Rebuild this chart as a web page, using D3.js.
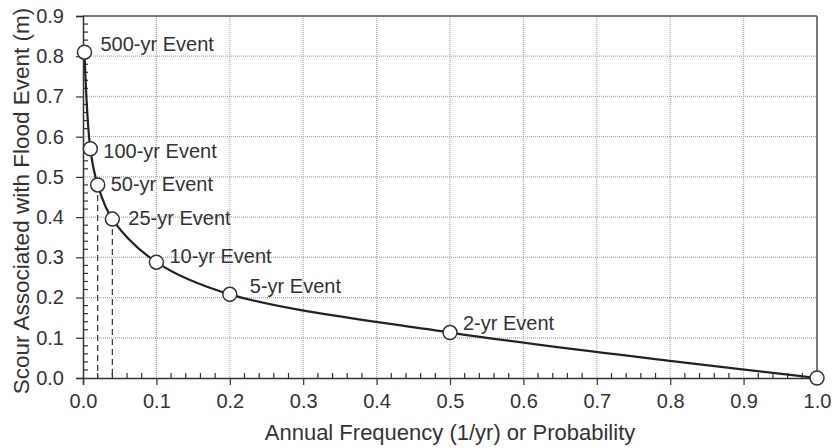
<!DOCTYPE html>
<html><head><meta charset="utf-8">
<script src="https://cdn.jsdelivr.net/npm/d3@7"></script>
<style>body{margin:0;background:#fff;} text{font-family:"Liberation Sans",Arial,sans-serif;}</style>
</head><body><svg id="c" width="836" height="448"></svg>
<script>
const events = ["500-yr Event","100-yr Event","50-yr Event","25-yr Event","10-yr Event","5-yr Event","2-yr Event",""];
const freq = [0.002,0.01,0.02,0.04,0.1,0.2,0.5,1.0];
const scour = [0.81,0.57,0.48,0.395,0.288,0.208,0.113,0.0];
const dashedFreq = [0.02,0.04];
const xTicks = [0,0.1,0.2,0.3,0.4,0.5,0.6,0.7,0.8,0.9,1.0];
const yTicks = [0,0.1,0.2,0.3,0.4,0.5,0.6,0.7,0.8,0.9];
const labelOffsets = [[16,-8],[13,2],[13,-1],[16,-1],[13,-6],[20,-8],[13,-10],[0,0]];

const svg = d3.select("#c");
const m = {l:83,r:817,t:16,b:378};
const x = d3.scaleLinear().domain([0,1]).range([m.l,m.r]);
const y = d3.scaleLinear().domain([0,0.9]).range([m.b,m.t]);
const ink = "#333";
const fs = 20;

// grid
const g = svg.append("g");
g.selectAll(".gx").data(xTicks.slice(1)).join("line")
 .attr("x1",d=>x(d)).attr("x2",d=>x(d)).attr("y1",m.t).attr("y2",m.b)
 .attr("stroke","#aaa").attr("stroke-width",1.2).attr("stroke-dasharray","1,1");
g.selectAll(".gy").data(yTicks.slice(1)).join("line")
 .attr("y1",d=>y(d)).attr("y2",d=>y(d)).attr("x1",m.l).attr("x2",m.r)
 .attr("stroke","#aaa").attr("stroke-width",1.2).attr("stroke-dasharray","1,1");

// frame top/right
svg.append("line").attr("x1",m.l).attr("x2",m.r).attr("y1",m.t).attr("y2",m.t).attr("stroke","#555").attr("stroke-width",1.5);
svg.append("line").attr("x1",m.r).attr("x2",m.r).attr("y1",m.t).attr("y2",m.b).attr("stroke","#555").attr("stroke-width",1.5);

// axes
const xAxis = d3.axisBottom(x).tickValues(xTicks).tickFormat(d3.format(".1f")).tickSize(7).tickPadding(9);
const yAxis = d3.axisLeft(y).tickValues(yTicks).tickFormat(d3.format(".1f")).tickSize(7).tickPadding(12);
const xa = svg.append("g").attr("transform",`translate(0,${m.b})`).call(xAxis);
const ya = svg.append("g").attr("transform",`translate(${m.l},0)`).call(yAxis);
[xa,ya].forEach(a=>{
  a.attr("font-size",fs).attr("font-family","Liberation Sans, Arial, sans-serif");
  a.select(".domain").attr("stroke",ink).attr("stroke-width",1.5);
  a.selectAll(".tick line").attr("stroke",ink).attr("stroke-width",1.2);
  a.selectAll("text").attr("fill","#333").attr("font-size",fs);
});
// minor ticks inside
const minorX = d3.range(1,50).map(i=>i*0.02).filter(d=>Math.abs(d*10-Math.round(d*10))>1e-6);
const minorY = d3.range(1,45).map(i=>i*0.02).filter(d=>Math.abs(d*10-Math.round(d*10))>1e-6);
svg.append("g").selectAll("line").data(minorX).join("line")
 .attr("x1",d=>x(d)).attr("x2",d=>x(d)).attr("y1",m.b).attr("y2",m.b-5).attr("stroke",ink).attr("stroke-width",1.2);
svg.append("g").selectAll("line").data(minorY).join("line")
 .attr("y1",d=>y(d)).attr("y2",d=>y(d)).attr("x1",m.l).attr("x2",m.l+5).attr("stroke",ink).attr("stroke-width",1.2);

// dashed drop lines
svg.append("g").selectAll("line").data(dashedFreq).join("line")
 .attr("x1",d=>x(d)).attr("x2",d=>x(d))
 .attr("y1",d=>y(scour[freq.indexOf(d)])).attr("y2",m.b)
 .attr("stroke",ink).attr("stroke-width",1.2).attr("stroke-dasharray","6,4");

// curve
const pts = freq.map((f,i)=>[f,scour[i]]);
svg.append("path").datum(pts)
 .attr("d",d3.line().x(d=>x(d[0])).y(d=>y(d[1])).curve(d3.curveCatmullRom.alpha(0.5)))
 .attr("fill","none").attr("stroke","#222").attr("stroke-width",2.2);

// circles
svg.append("g").selectAll("circle").data(pts).join("circle")
 .attr("cx",d=>x(d[0])).attr("cy",d=>y(d[1])).attr("r",7)
 .attr("fill","#fff").attr("stroke","#333").attr("stroke-width",1.5);

// labels
svg.append("g").selectAll("text").data(pts).join("text")
 .attr("x",(d,i)=>x(d[0])+labelOffsets[i][0])
 .attr("y",(d,i)=>y(d[1])+labelOffsets[i][1])
 .attr("dy","0.35em").attr("font-size",fs).attr("fill","#333")
 .text((d,i)=>events[i]);

// titles
svg.append("text").attr("x",x(0.5)).attr("y",440).attr("text-anchor","middle")
 .attr("font-size",22).attr("fill","#333").text("Annual Frequency (1/yr) or Probability");
svg.append("text").attr("transform",`translate(29,${(m.t+m.b)/2 + 4}) rotate(-90)`).attr("text-anchor","middle")
 .attr("font-size",22.5).attr("fill","#333").text("Scour Associated with Flood Event (m)");
</script></body></html>
